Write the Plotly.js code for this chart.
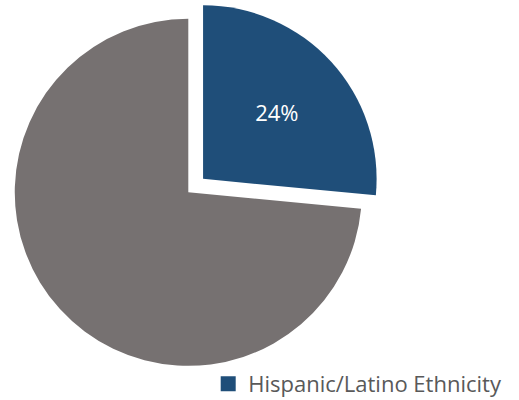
<!DOCTYPE html>
<html>
<head>
<meta charset="utf-8">
<script src="https://cdn.plot.ly/plotly-3.0.1.min.js"></script>
<style>
  html, body { margin: 0; padding: 0; background: #ffffff; overflow: hidden; }
  #chart { position: absolute; left: -6px; top: -2px; width: 525px; height: 402px; }
</style>
</head>
<body>
<div id="chart"></div>
<script>
// Slice shares (blue wedge spans ~95 degrees)
const categories = ['Hispanic/Latino Ethnicity', 'Not Hispanic/Latino'];
const values = [26.5, 73.5];
// Data label as printed on the chart
const sliceLabels = ['24%', ''];
const legendEntries = ['Hispanic/Latino Ethnicity'];

const BLUE = '#1F4E79';
const GRAY = '#767171';

const pieTrace = {
  type: 'pie',
  labels: categories,
  values: values,
  text: sliceLabels,
  textinfo: 'text',
  textposition: 'inside',
  insidetextorientation: 'horizontal',
  textfont: { family: 'Open Sans, sans-serif', size: 22, color: '#ffffff' },
  sort: false,
  direction: 'clockwise',
  rotation: 0,
  pull: [0.115, 0],
  marker: { colors: [BLUE, GRAY], line: { width: 0 } },
  showlegend: false,
  hoverinfo: 'label+percent',
  domain: { x: [0.0015, 0.7387], y: [0.0353, 0.998] }
};

const legendTrace = {
  type: 'scatter',
  mode: 'markers',
  name: legendEntries[0],
  x: [null], y: [null],
  marker: { symbol: 'square', size: 15, color: BLUE },
  showlegend: true,
  hoverinfo: 'skip'
};

const layout = {
  width: 525,
  height: 402,
  margin: { l: 0, r: 0, t: 0, b: 0, pad: 0, autoexpand: false },
  paper_bgcolor: '#ffffff',
  plot_bgcolor: '#ffffff',
  xaxis: { visible: false },
  yaxis: { visible: false },
  showlegend: true,
  legend: {
    x: 0.408, y: -0.0124,
    xanchor: 'left', yanchor: 'bottom',
    orientation: 'v',
    bgcolor: 'rgba(0,0,0,0)',
    borderwidth: 0,
    font: { family: 'Open Sans, sans-serif', size: 22, color: '#595959' }
  }
};

Plotly.newPlot('chart', [pieTrace, legendTrace], layout, { displayModeBar: false, staticPlot: true });
</script>
</body>
</html>
